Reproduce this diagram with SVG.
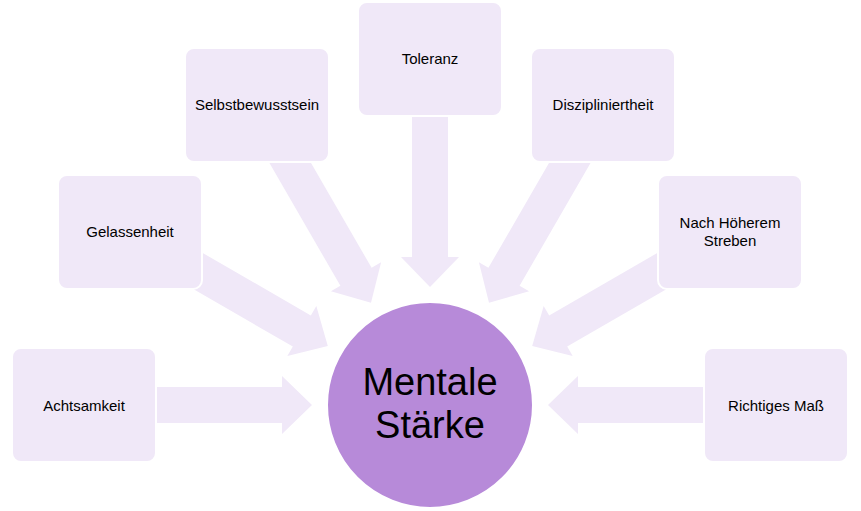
<svg xmlns="http://www.w3.org/2000/svg" xmlns:xlink="http://www.w3.org/1999/xlink" width="861" height="511" viewBox="0 0 861 511">
<style>
.box{fill:#f0e8f8;stroke:#ffffff;stroke-width:2}
.arr{fill:#f0e8f8}
.lbl{font-family:"Liberation Sans",Arial,sans-serif;font-size:15px;fill:#000;text-anchor:middle}
.big{font-family:"Liberation Sans",Arial,sans-serif;font-size:38px;fill:#000;text-anchor:middle}
</style>
<defs>
<path id="arrow" d="M0,-18 H152 V-29 L182,0 L152,29 V18 H0 Z"/>
</defs>
<rect width="861" height="511" fill="#ffffff"/>
<g id="connectors" class="arr">
<use xlink:href="#arrow" transform="translate(430 405) rotate(0) translate(-300 0)"/>
<use xlink:href="#arrow" transform="translate(430 405) rotate(30) translate(-300 0)"/>
<use xlink:href="#arrow" transform="translate(430 405) rotate(60) translate(-300 0)"/>
<use xlink:href="#arrow" transform="translate(430 405) rotate(90) translate(-300 0)"/>
<use xlink:href="#arrow" transform="translate(430 405) rotate(120) translate(-300 0)"/>
<use xlink:href="#arrow" transform="translate(430 405) rotate(150) translate(-300 0)"/>
<use xlink:href="#arrow" transform="translate(430 405) rotate(180) translate(-300 0)"/>
</g>
<g id="center">
<circle cx="430" cy="405" r="103" fill="#b78ad9" stroke="#ffffff" stroke-width="2"/>
<text class="big" x="430" y="395">Mentale</text>
<text class="big" x="430" y="438">Stärke</text>
</g>
<g id="achtsamkeit">
<rect class="box" x="12" y="348" width="144" height="114" rx="9"/>
<text class="lbl" x="84" y="411">Achtsamkeit</text>
</g>
<g id="gelassenheit">
<rect class="box" x="58" y="175" width="144" height="114" rx="9"/>
<text class="lbl" x="130" y="237">Gelassenheit</text>
</g>
<g id="selbstbewusstsein">
<rect class="box" x="185" y="48" width="144" height="114" rx="9"/>
<text class="lbl" x="257" y="110">Selbstbewusstsein</text>
</g>
<g id="toleranz">
<rect class="box" x="358" y="2" width="144" height="114" rx="9"/>
<text class="lbl" x="430" y="64">Toleranz</text>
</g>
<g id="disziplin">
<rect class="box" x="531" y="48" width="144" height="114" rx="9"/>
<text class="lbl" x="603" y="110">Diszipliniertheit</text>
</g>
<g id="streben">
<rect class="box" x="658" y="175" width="144" height="114" rx="9"/>
<text class="lbl" x="730" y="228">Nach Höherem</text>
<text class="lbl" x="730" y="246">Streben</text>
</g>
<g id="mass">
<rect class="box" x="704" y="348" width="144" height="114" rx="9"/>
<text class="lbl" x="776" y="411">Richtiges Maß</text>
</g>
</svg>
